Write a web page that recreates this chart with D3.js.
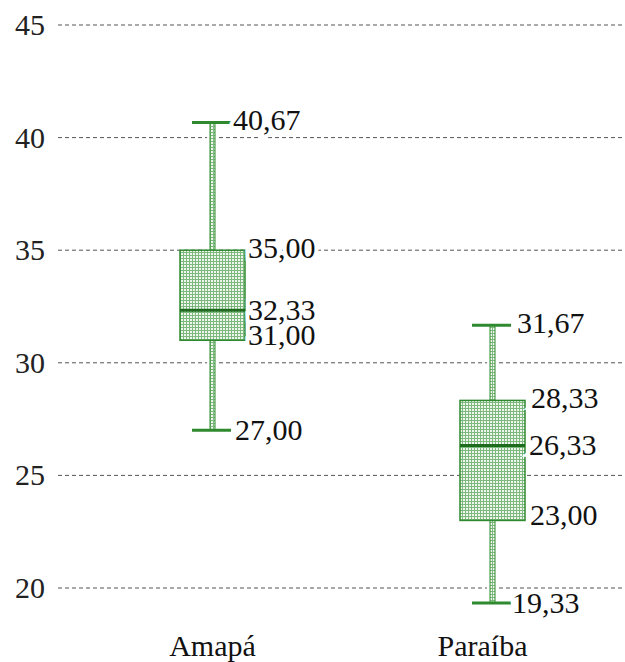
<!DOCTYPE html>
<html>
<head>
<meta charset="utf-8">
<script src="https://cdn.jsdelivr.net/npm/d3@7"></script>
</head>
<body style="margin:0">
<svg id="chart" width="625" height="662" font-family="Liberation Serif"></svg>
<script>
// Box-plot summary per state
const categories = ["Amapá", "Paraíba"];
const minValues = [27.00, 19.33];
const q1Values = [31.00, 23.00];
const medianValues = [32.33, 26.33];
const q3Values = [35.00, 28.33];
const maxValues = [40.67, 31.67];
const yTicks = [20, 25, 30, 35, 40, 45];

const fmt = v => v.toFixed(2).replace(".", ",");

const W = 625, H = 662;
const svg = d3.select("#chart");
const serif = "Liberation Serif";
const green = "#2f8a2f";
const darkGreen = "#1d6b1d";
const fs = 30;

const y = d3.scaleLinear().domain([20, 45]).range([588, 25]);
const x = d3.scalePoint().domain(categories).range([212.5, 492.5]);

// hatch pattern for boxes and whisker stems
const defs = svg.append("defs");
const pat = defs.append("pattern")
  .attr("id", "grid").attr("width", 3).attr("height", 3)
  .attr("patternUnits", "userSpaceOnUse");
pat.append("rect").attr("width", 3).attr("height", 3).attr("fill", "#eef6ee");
pat.append("rect").attr("x", 0).attr("y", 0).attr("width", 3).attr("height", 1).attr("fill", "#7db97d");
pat.append("rect").attr("x", 0).attr("y", 0).attr("width", 1).attr("height", 3).attr("fill", "#7db97d");

// dashed gridlines
svg.append("g").selectAll("line").data(yTicks).join("line")
  .attr("x1", 58).attr("x2", W)
  .attr("y1", d => y(d)).attr("y2", d => y(d))
  .attr("stroke", "#555").attr("stroke-width", 1)
  .attr("stroke-dasharray", "4,3");

// y axis labels
svg.append("g").selectAll("text").data(yTicks).join("text")
  .attr("x", 45).attr("y", d => y(d)).attr("dy", "0.33em")
  .attr("text-anchor", "end")
  .attr("font-family", serif).attr("font-size", fs).attr("fill", "#222")
  .text(d => d);

const boxW = 65, stemW = 5;

const data = categories.map((c, i) => ({
  c, min: minValues[i], q1: q1Values[i], med: medianValues[i], q3: q3Values[i], max: maxValues[i]
}));

const g = svg.append("g").selectAll("g").data(data).join("g");

// whisker stems with white margin behind
g.append("rect")
  .attr("x", d => x(d.c) - stemW / 2 - 3).attr("width", stemW + 6)
  .attr("y", d => y(d.max)).attr("height", d => y(d.min) - y(d.max))
  .attr("fill", "#fff");
g.append("rect")
  .attr("x", d => x(d.c) - stemW / 2).attr("width", stemW)
  .attr("y", d => y(d.max)).attr("height", d => y(d.min) - y(d.max))
  .attr("fill", "url(#grid)").attr("stroke", green).attr("stroke-width", 1);

// caps
g.selectAll("line.cap").data(d => [d.min, d.max].map(v => ({ c: d.c, v }))).join("line")
  .attr("class", "cap")
  .attr("x1", d => x(d.c) - 20.5).attr("x2", d => x(d.c) + 18.5)
  .attr("y1", d => y(d.v)).attr("y2", d => y(d.v))
  .attr("stroke", green).attr("stroke-width", 3);

// boxes
g.append("rect")
  .attr("x", d => x(d.c) - 32.5).attr("width", boxW)
  .attr("y", d => y(d.q3)).attr("height", d => y(d.q1) - y(d.q3))
  .attr("fill", "url(#grid)").attr("stroke", green).attr("stroke-width", 1.5);

// medians
g.append("line")
  .attr("x1", d => x(d.c) - 32.5).attr("x2", d => x(d.c) + 32.5)
  .attr("y1", d => y(d.med)).attr("y2", d => y(d.med))
  .attr("stroke", darkGreen).attr("stroke-width", 3);

// value labels
const labelOf = d => [
  { v: d.max, x: x(d.c) + 18.5 + (d.c === "Amapá" ? 2 : 6), dy: -2 },
  { v: d.q3, x: x(d.c) + 32.5 + (d.c === "Amapá" ? 3 : 6), dy: -2 },
  { v: d.med, x: x(d.c) + 32.5 + (d.c === "Amapá" ? 3 : 4), dy: 0 },
  { v: d.q1, x: x(d.c) + 32.5 + (d.c === "Amapá" ? 3 : 5), dy: -5 },
  { v: d.min, x: x(d.c) + 18.5 + (d.c === "Amapá" ? 4 : 1), dy: 0 }
];
g.selectAll("text.val").data(labelOf).join("text")
  .attr("class", "val")
  .attr("x", d => d.x).attr("y", d => y(d.v) + d.dy)
  .attr("dy", "0.33em")
  .attr("font-family", serif).attr("font-size", fs).attr("fill", "#111")
  .attr("stroke", "#fff").attr("stroke-width", 8).attr("paint-order", "stroke")
  .text(d => fmt(d.v));

// category labels
svg.append("g").selectAll("text").data(categories).join("text")
  .attr("x", d => x(d) + (d === "Paraíba" ? -10 : 0)).attr("y", 656)
  .attr("text-anchor", "middle")
  .attr("font-family", serif).attr("font-size", fs).attr("fill", "#111")
  .text(d => d);
</script>
</body>
</html>
